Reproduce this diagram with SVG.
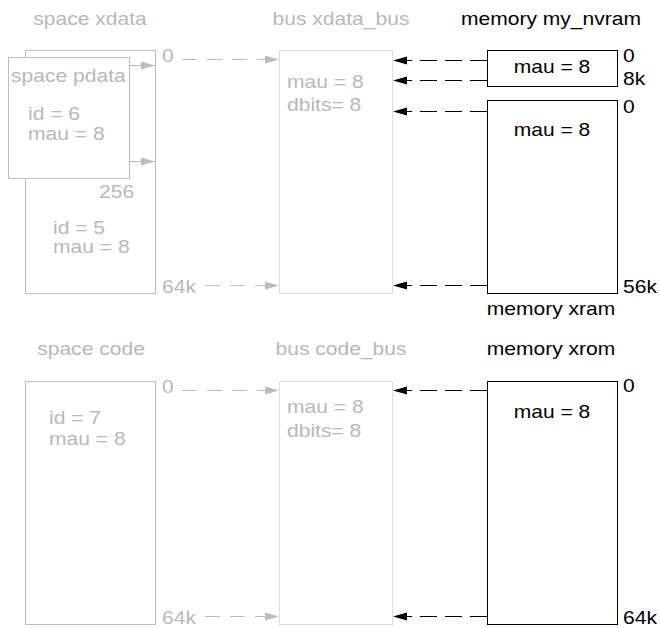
<svg xmlns="http://www.w3.org/2000/svg" width="660" height="628" viewBox="0 0 660 628">
<style>
text{font-family:"Liberation Sans",Arial,Helvetica,sans-serif;font-size:18px}
.g{fill:#b8b8b8}
.k{fill:#000}
.m{text-anchor:middle}
.sp{fill:#fff;stroke:#bcbcbc;stroke-width:1}
.bus{fill:#fff;stroke:#dedede;stroke-width:1}
.mem{fill:#fff;stroke:#000;stroke-width:1}
.gl{stroke:#bcbcbc;stroke-width:1;fill:none}
.gd{stroke:#bcbcbc;stroke-width:1;fill:none;stroke-dasharray:15 10}
.kd{stroke:#000;stroke-width:1;fill:none;stroke-dasharray:17 8}
</style>
<defs>
<marker id="ag" markerUnits="userSpaceOnUse" markerWidth="15" markerHeight="9" refX="14" refY="4" orient="auto"><path d="M0,0 L14,4 L0,8 z" fill="#bcbcbc"/></marker>
<marker id="ak" markerUnits="userSpaceOnUse" markerWidth="15" markerHeight="9" refX="14" refY="4" orient="auto"><path d="M0,0 L14,4 L0,8 z" fill="#000"/></marker>
</defs>
<rect width="660" height="628" fill="#fff"/>

<g id="space-xdata">
<rect class="sp" x="25.5" y="50.5" width="130" height="243"/>
<text class="g m" transform="translate(90,25) scale(1.17,1)">space xdata</text>
<text class="g" transform="translate(99,198) scale(1.17,1)">256</text>
<text class="g" transform="translate(53,234) scale(1.17,1)">id = 5</text>
<text class="g" transform="translate(53,253) scale(1.17,1)">mau = 8</text>
<text class="g" transform="translate(162,62) scale(1.17,1)">0</text>
<text class="g" transform="translate(162,293) scale(1.17,1)">64k</text>
</g>

<g id="space-pdata">
<rect class="sp" x="8.5" y="57.5" width="121" height="121"/>
<text class="g" transform="translate(11,82) scale(1.17,1)">space pdata</text>
<text class="g" transform="translate(28,120) scale(1.17,1)">id = 6</text>
<text class="g" transform="translate(28,140) scale(1.17,1)">mau = 8</text>
</g>

<g id="bus-xdata_bus">
<rect class="bus" x="279.5" y="50.5" width="113" height="243"/>
<text class="g m" transform="translate(341,25) scale(1.17,1)">bus xdata_bus</text>
<text class="g" transform="translate(287,88) scale(1.17,1)">mau = 8</text>
<text class="g" transform="translate(287,111) scale(1.17,1)">dbits= 8</text>
</g>

<g id="memory-my_nvram">
<rect class="mem" x="487.5" y="50.5" width="130" height="36"/>
<text class="k m" transform="translate(551,25) scale(1.17,1)">memory my_nvram</text>
<text class="k m" transform="translate(552,73) scale(1.17,1)">mau = 8</text>
<text class="k" transform="translate(623,62) scale(1.17,1)">0</text>
<text class="k" transform="translate(623,85) scale(1.17,1)">8k</text>
</g>

<g id="memory-xram">
<rect class="mem" x="487.5" y="100.5" width="130" height="193"/>
<text class="k m" transform="translate(552,136) scale(1.17,1)">mau = 8</text>
<text class="k" transform="translate(623,113) scale(1.17,1)">0</text>
<text class="k" transform="translate(623,293) scale(1.17,1)">56k</text>
<text class="k m" transform="translate(551,315) scale(1.17,1)">memory xram</text>
</g>

<g id="space-code">
<rect class="sp" x="25.5" y="381.5" width="130" height="243"/>
<text class="g m" transform="translate(91,355) scale(1.17,1)">space code</text>
<text class="g" transform="translate(49,424) scale(1.17,1)">id = 7</text>
<text class="g" transform="translate(49,445) scale(1.17,1)">mau = 8</text>
<text class="g" transform="translate(162,393) scale(1.17,1)">0</text>
<text class="g" transform="translate(162,624) scale(1.17,1)">64k</text>
</g>

<g id="bus-code_bus">
<rect class="bus" x="279.5" y="381.5" width="113" height="243"/>
<text class="g m" transform="translate(341,355) scale(1.17,1)">bus code_bus</text>
<text class="g" transform="translate(287,413) scale(1.17,1)">mau = 8</text>
<text class="g" transform="translate(287,437) scale(1.17,1)">dbits= 8</text>
</g>

<g id="memory-xrom">
<rect class="mem" x="487.5" y="381.5" width="130" height="243"/>
<text class="k m" transform="translate(551,355) scale(1.17,1)">memory xrom</text>
<text class="k m" transform="translate(552,418) scale(1.17,1)">mau = 8</text>
<text class="k" transform="translate(623,392) scale(1.17,1)">0</text>
<text class="k" transform="translate(623,624) scale(1.17,1)">64k</text>
</g>

<g id="connectors">
<line class="gl" x1="130" y1="65.5" x2="155" y2="65.5" marker-end="url(#ag)"/>
<line class="gl" x1="130" y1="161.5" x2="155" y2="161.5" marker-end="url(#ag)"/>
<line class="gd" x1="182" y1="59.5" x2="279" y2="59.5" marker-end="url(#ag)"/>
<line class="gd" x1="205" y1="285.5" x2="279" y2="285.5" marker-end="url(#ag)"/>
<line class="gd" x1="182" y1="390.5" x2="279" y2="390.5" marker-end="url(#ag)"/>
<line class="gd" x1="205" y1="616.5" x2="279" y2="616.5" marker-end="url(#ag)"/>
<line class="kd" x1="487" y1="60.5" x2="393" y2="60.5" marker-end="url(#ak)"/>
<line class="kd" x1="487" y1="80.5" x2="393" y2="80.5" marker-end="url(#ak)"/>
<line class="kd" x1="487" y1="111.5" x2="393" y2="111.5" marker-end="url(#ak)"/>
<line class="kd" x1="487" y1="285.5" x2="393" y2="285.5" marker-end="url(#ak)"/>
<line class="kd" x1="487" y1="390.5" x2="393" y2="390.5" marker-end="url(#ak)"/>
<line class="kd" x1="487" y1="616.5" x2="393" y2="616.5" marker-end="url(#ak)"/>
</g>
</svg>
